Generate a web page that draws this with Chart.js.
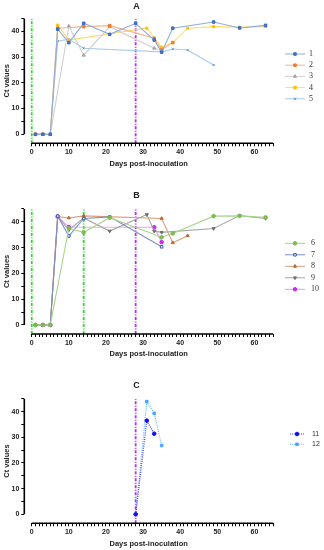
<!DOCTYPE html>
<html lang="en">
<head>
<meta charset="UTF-8">
<title>Ct values by day</title>
<script src="https://cdn.jsdelivr.net/npm/chart.js"></script>
<style>
  html, body { margin: 0; padding: 0; background: #fff; }
  .panel { position: absolute; left: 0; width: 324px; }
  canvas { display: block; }
</style>
</head>
<body>
  <div class="panel" style="top:0;height:175px"><canvas id="chartA"></canvas></div>
  <div class="panel" style="top:175px;height:185px"><canvas id="chartB"></canvas></div>
  <div class="panel" style="top:360px;height:190px"><canvas id="chartC"></canvas></div>

<script>
// ---- data (days post-inoculation / Ct values) ----
const days1 = [1, 3, 5, 7, 10, 14, 21, 28, 33, 35, 38, 49, 56, 63];
const ct1   = [0, 0, 0, 40.8, 35.6, 43.1, 38.8, 43.1, 36.6, 31.9, 41.2, 43.6, 41.3, 42.3];
const days2 = [1, 3, 5, 7, 14, 21, 33, 35, 38];
const ct2   = [0, 0, 0, 41.2, 41.8, 42.2, 37.3, 32.8, 35.6];
const days3 = [1, 3, 5, 10, 14, 21, 33, 35];
const ct3   = [0, 0, 0, 42, 30.7, 41.8, 33.4, 32.5];
const days4 = [1, 3, 5, 7, 10, 31, 35, 38, 42, 49, 56, 63];
const ct4   = [0, 0, 0, 42.4, 36.6, 41.2, 33.8, 35.6, 41.2, 41.8, 41.6, 41.8];
const days5 = [1, 3, 5, 7, 10, 14, 35, 38, 42, 49];
const ct5   = [0, 0, 0, 36.1, 36.9, 33.4, 32.0, 33.1, 32.7, 26.9];

const days6  = [1, 3, 5, 10, 14, 21, 35, 38, 49, 56, 63];
const ct6    = [0, 0, 0, 37.5, 35.9, 41.6, 34.0, 35.5, 42.2, 42.3, 41.7];
const days7  = [1, 3, 5, 7, 10, 14, 21, 35];
const ct7    = [0, 0, 0, 42.2, 34.5, 41.3, 41.9, 30.3];
const days8  = [1, 3, 5, 7, 10, 14, 35, 38, 42];
const ct8    = [0, 0, 0, 42, 41.5, 42.3, 41.3, 31.9, 34.6];
const days9  = [1, 3, 5, 7, 10, 14, 21, 31, 33, 35, 49, 56, 63];
const ct9    = [0, 0, 0, 42, 36.8, 41.5, 36.4, 42.8, 36.4, 35.9, 37.4, 42.4, 41.3];
const days10 = [1, 3, 5, 7, 10, 33, 35];
const ct10   = [0, 0, 0, 42, 38, 37.9, 32.1];

const days11 = [28, 31, 33];
const ct11   = [0, 36.5, 31.4];
const days12 = [28, 31, 33, 35];
const ct12   = [0, 43.9, 39.3, 26.8];

// inoculation markers (days)
const greenA = [0];
const magentaA = [28];
const greenB = [0, 14];
const magentaB = [28];
const magentaC = [28];

const xTicks = Array.from({ length: 66 }, (_, i) => i);       // 0..65
const yTicks = [0, 5, 10, 15, 20, 25, 30, 35, 40, 45];
const X_MIN = -2, X_MAX = 65, Y_MIN = -3.5, Y_MAX = 45;

function pts(days, ct) { return days.map((d, i) => ({ x: d, y: ct[i] })); }

function series(label, days, ct, line, marker, style, extra) {
  return Object.assign({
    label, data: pts(days, ct),
    borderColor: line, backgroundColor: marker,
    pointBorderColor: marker, pointBackgroundColor: marker,
    pointStyle: style, pointRadius: 1.8, pointBorderWidth: 1,
    borderWidth: 1.1, tension: 0, inLegend: true,
  }, extra || {});
}

function vline(day, color) {
  return {
    data: [{ x: day, y: Y_MIN }, { x: day, y: Y_MAX }],
    borderColor: color, borderWidth: 1.8, borderDash: [3, 1.5, 1, 1.5],
    pointRadius: 0, inLegend: false, order: 20,
  };
}

// axis lines that stop at 0 / 45, like the offset axes of the original
const axisLines = {
  id: 'axisLines',
  afterDraw(chart) {
    const { ctx, scales: { x, y }, chartArea } = chart;
    ctx.save();
    ctx.strokeStyle = '#000';
    ctx.lineWidth = 1.6;
    ctx.beginPath();
    ctx.moveTo(chartArea.left, y.getPixelForValue(0));
    ctx.lineTo(chartArea.left, y.getPixelForValue(Y_MAX));
    ctx.moveTo(x.getPixelForValue(0), chartArea.bottom);
    ctx.lineTo(x.getPixelForValue(X_MAX), chartArea.bottom);
    ctx.stroke();
    ctx.restore();
  }
};

// legend: short line with the marker in the middle, then label
const sideLegend = {
  id: 'sideLegend',
  afterDraw(chart, args, opts) {
    const { ctx } = chart;
    const items = chart.data.datasets.filter(d => d.inLegend);
    ctx.save();
    items.forEach((d, i) => {
      const y = opts.top + i * opts.gap;
      ctx.strokeStyle = d.borderColor;
      ctx.lineWidth = 1;
      ctx.setLineDash(d.borderDash || []);
      ctx.beginPath();
      ctx.moveTo(opts.x1, y);
      ctx.lineTo(opts.x2, y);
      ctx.stroke();
      ctx.setLineDash([]);
      ctx.fillStyle = d.pointBackgroundColor;
      ctx.strokeStyle = d.pointBorderColor;
      const cx = (opts.x1 + opts.x2) / 2;
      if (Chart.helpers && Chart.helpers.drawPoint) {
        Chart.helpers.drawPoint(ctx, {
          pointStyle: d.pointStyle, rotation: d.pointRotation || 0,
          radius: 1.8, borderWidth: 1,
        }, cx, y);
      } else {
        ctx.beginPath(); ctx.arc(cx, y, 2, 0, Math.PI * 2); ctx.fill();
      }
      ctx.fillStyle = '#333';
      ctx.font = opts.font;
      ctx.textBaseline = 'middle';
      ctx.fillText(d.label, opts.tx, y);
    });
    ctx.restore();
  }
};

const tickFont = { family: 'Liberation Sans', size: 7, weight: 'bold' };
const titleFont = { family: 'Liberation Sans', size: 7.5, weight: 'bold' };

function makeChart(id, title, datasets, geo, legend) {
  const canvasH = geo.h;
  return new Chart(document.getElementById(id), {
    type: 'line',
    data: { datasets },
    plugins: [axisLines, sideLegend],
    options: {
      responsive: true,
      maintainAspectRatio: false,
      animation: false,
      layout: { padding: { left: 0, right: 51, top: 0, bottom: 0 } },
      scales: {
        x: {
          type: 'linear', min: X_MIN, max: X_MAX,
          afterBuildTicks: s => { s.ticks = xTicks.map(v => ({ value: v })); },
          afterFit: s => { s.height = canvasH - geo.bottom; },
          grid: { drawOnChartArea: false, drawTicks: true, tickLength: 3, color: '#000', lineWidth: 1 },
          border: { display: false },
          ticks: {
            autoSkip: false, maxRotation: 0, padding: 2, color: '#222', font: tickFont,
            callback: v => (v % 10 === 0 ? v : ''),
          },
          title: {
            display: true, text: 'Days post-inoculation', color: '#222', font: titleFont,
            padding: { top: 0, bottom: geo.xTitlePad },
          },
        },
        y: {
          type: 'linear', min: Y_MIN, max: Y_MAX,
          afterBuildTicks: s => { s.ticks = yTicks.map(v => ({ value: v })); },
          afterFit: s => { s.width = 24.3; },
          grid: { drawOnChartArea: false, drawTicks: true, tickLength: 3, color: '#000', lineWidth: 1 },
          border: { display: false },
          ticks: {
            padding: 2, color: '#222', font: tickFont,
            callback: v => (v % 10 === 0 ? v : ''),
          },
          title: {
            display: true, text: 'Ct values', color: '#222', font: titleFont,
            padding: { top: 2.5, bottom: 0 },
          },
        },
      },
      plugins: {
        legend: { display: false },
        tooltip: { enabled: false },
        title: {
          display: true, text: title, color: '#222',
          font: { family: 'Liberation Sans', size: 9, weight: 'bold' },
          padding: { top: geo.titleTop, bottom: geo.titleBottom },
        },
        sideLegend: legend,
      },
    },
  });
}

makeChart('chartA', 'A', [
  series('1', days1, ct1, '#8eaee0', '#3f6fc4', 'rect'),
  series('2', days2, ct2, '#f6b38a', '#ed7d31', 'rect'),
  series('3', days3, ct3, '#cfcfcf', '#a5a5a5', 'triangle'),
  series('4', days4, ct4, '#ffdc70', '#ffc000', 'rect', { pointRadius: 1.5 }),
  series('5', days5, ct5, '#a9cbec', '#5b9bd5', 'crossRot', { pointRadius: 1.5 }),
  ...greenA.map(d => vline(d, '#2ed82e')),
  ...magentaA.map(d => vline(d, '#b32cf0')),
], { h: 175, bottom: 143.3, xTitlePad: 7, titleTop: 1, titleBottom: 6.6 },
{ top: 54, gap: 11.2, x1: 285, x2: 305, tx: 309, font: '8px "Liberation Serif"' });

makeChart('chartB', 'B', [
  series('6', days6, ct6, '#a9d48a', '#7dbb55', 'circle'),
  series('7', days7, ct7, '#7b8fc2', '#3b5ba8', 'rect', { pointBackgroundColor: '#e8eefa' }),
  series('8', days8, ct8, '#d7a07a', '#c0642a', 'triangle'),
  series('9', days9, ct9, '#a6a6a6', '#6f6f6f', 'triangle', { pointRotation: 180 }),
  series('10', days10, ct10, '#e39cf7', '#c52ef0', 'circle'),
  ...greenB.map(d => vline(d, '#2ed82e')),
  ...magentaB.map(d => vline(d, '#b32cf0')),
], { h: 185, bottom: 159, xTitlePad: 1.2, titleTop: 15, titleBottom: 8.1 },
{ top: 68.3, gap: 11.5, x1: 285, x2: 305, tx: 311, font: '8px "Liberation Serif"' });

makeChart('chartC', 'C', [
  series('11', days11, ct11, '#3d3dff', '#1010ee', 'circle', { borderDash: [1, 1.2], borderWidth: 1.2 }),
  series('12', days12, ct12, '#66b5ff', '#4aa6ff', 'rect', { borderDash: [1, 1.2], borderWidth: 1.2 }),
  ...magentaC.map(d => vline(d, '#b32cf0')),
], { h: 190, bottom: 163.3, xTitlePad: 1.2, titleTop: 20, titleBottom: 8 },
{ top: 74, gap: 10.3, x1: 290, x2: 304, tx: 312, font: '7px "Liberation Sans"' });
</script>
</body>
</html>
